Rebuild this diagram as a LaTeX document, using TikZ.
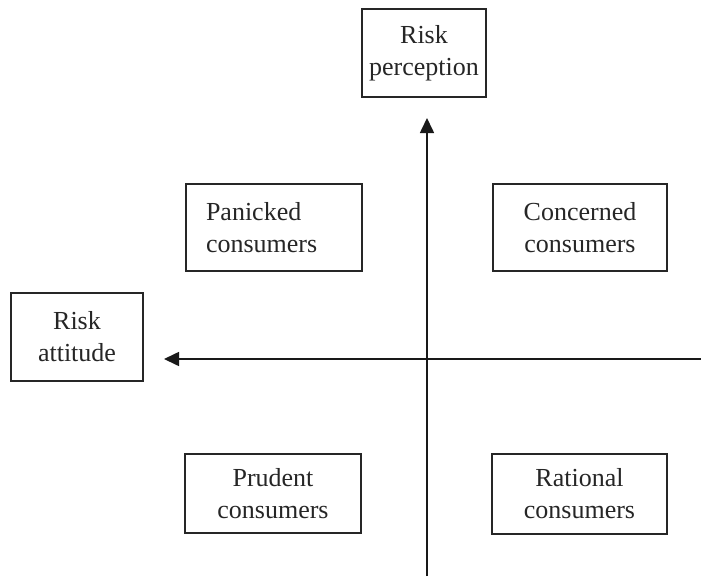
\documentclass[tikz,border=0pt]{standalone}
\usepackage{fontspec}
\setmainfont{Liberation Serif}
\usetikzlibrary{arrows.meta}
\begin{document}
\begin{tikzpicture}[x=1pt,y=-1pt,
  box/.style={draw=black!85, line width=1.3pt, inner sep=0pt, align=center,
    font=\fontsize{26}{32}\selectfont, text=black!85},
  axis/.style={line width=1.6pt, draw=black!90, -{Triangle[length=15pt,width=14pt]}}]
\useasboundingbox (0,0) rectangle (701,578);
\node[box, minimum width=124pt, minimum height=88pt] (perc) at (424,53) {Risk\\perception};
\node[box, minimum width=132pt, minimum height=88pt] (att) at (77,337) {Risk\\attitude};
\node[box, minimum width=176pt, minimum height=87pt, text width=136pt, align=left] (pan) at (274,227.5) {Panicked\\consumers};
\node[box, minimum width=174pt, minimum height=87pt] (con) at (580,227.5) {Concerned\\consumers};
\node[box, minimum width=176pt, minimum height=79pt] (pru) at (273,493.5) {Prudent\\consumers};
\node[box, minimum width=175pt, minimum height=80pt] (rat) at (579.5,494) {Rational\\consumers};
\coordinate (vb) at (427,576);
\coordinate (vt) at (427,118);
\coordinate (hr) at (701,359);
\coordinate (hl) at (164,359);
\draw[axis] (vb) -- (vt);
\draw[axis] (hr) -- (hl);
\end{tikzpicture}
\end{document}
